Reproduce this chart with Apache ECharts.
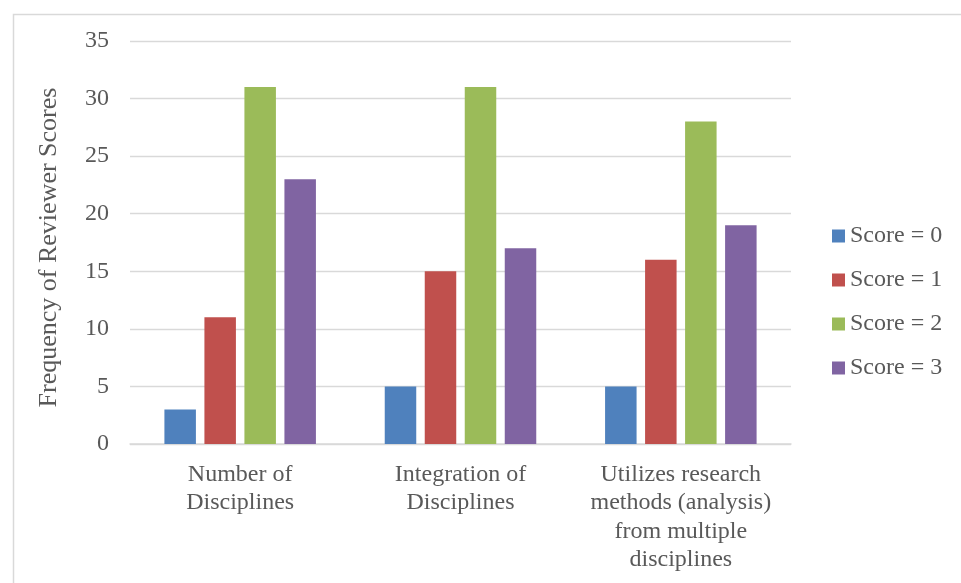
<!DOCTYPE html>
<html>
<head>
<meta charset="utf-8">
<script src="https://cdn.jsdelivr.net/npm/echarts@6/dist/echarts.min.js"></script>
<style>
  html, body { margin: 0; padding: 0; background: #fff; }
  #chart { width: 961px; height: 583px; }
</style>
</head>
<body>
<div id="chart"></div>
<script>
// Criteria rated by reviewers
const categories = [
  'Number of\nDisciplines',
  'Integration of\nDisciplines',
  'Utilizes research\nmethods (analysis)\nfrom multiple\ndisciplines'
];
// How often each score was given, per criterion
const seriesNames = ['Score = 0', 'Score = 1', 'Score = 2', 'Score = 3'];
const score0 = [3, 5, 5];
const score1 = [11, 15, 16];
const score2 = [31, 31, 28];
const score3 = [23, 17, 19];
const seriesColors = ['#4F81BD', '#C0504D', '#9BBB59', '#8064A2'];

const FONT = '"Liberation Serif", "Times New Roman", serif';
const TEXT = '#595959';

const chart = echarts.init(document.getElementById('chart'), null, { renderer: 'canvas' });

const allValues = [score0, score1, score2, score3];

chart.setOption({
  animation: false,
  backgroundColor: '#ffffff',
  graphic: [{
    type: 'rect',
    left: 11, top: 12,
    shape: { x: 0, y: 0, width: 1000, height: 1000 },
    style: { fill: 'none', stroke: '#D9D9D9', lineWidth: 1.5 },
    silent: true
  }],
  grid: { left: 130, right: 170, top: 41, bottom: 139 },
  legend: {
    orient: 'vertical',
    left: 827,
    top: 219,
    itemWidth: 13,
    itemHeight: 13,
    itemGap: 20,
    icon: 'rect',
    data: seriesNames,
    textStyle: { fontFamily: FONT, fontSize: 24, color: TEXT, lineHeight: 24 }
  },
  xAxis: {
    type: 'category',
    data: categories,
    axisTick: { show: false },
    axisLine: { lineStyle: { color: '#D9D9D9', width: 1.5 } },
    axisLabel: {
      fontFamily: FONT, fontSize: 24, color: TEXT,
      lineHeight: 28.5, margin: 16, interval: 0
    }
  },
  yAxis: {
    type: 'value',
    min: 0, max: 35, interval: 5,
    name: 'Frequency of Reviewer Scores',
    nameLocation: 'middle',
    nameGap: 68,
    nameTextStyle: { fontFamily: FONT, fontSize: 26, color: TEXT, padding: [0, 10, 0, 0] },
    axisLine: { show: false },
    axisTick: { show: false },
    axisLabel: { fontFamily: FONT, fontSize: 24, color: TEXT, margin: 21 },
    splitLine: { lineStyle: { color: '#D9D9D9', width: 1.3 } }
  },
  series: seriesNames.map((name, i) => ({
    name,
    type: 'bar',
    data: allValues[i],
    barWidth: 31.5,
    barGap: '27%',
    itemStyle: { color: seriesColors[i] }
  }))
});
</script>
</body>
</html>
